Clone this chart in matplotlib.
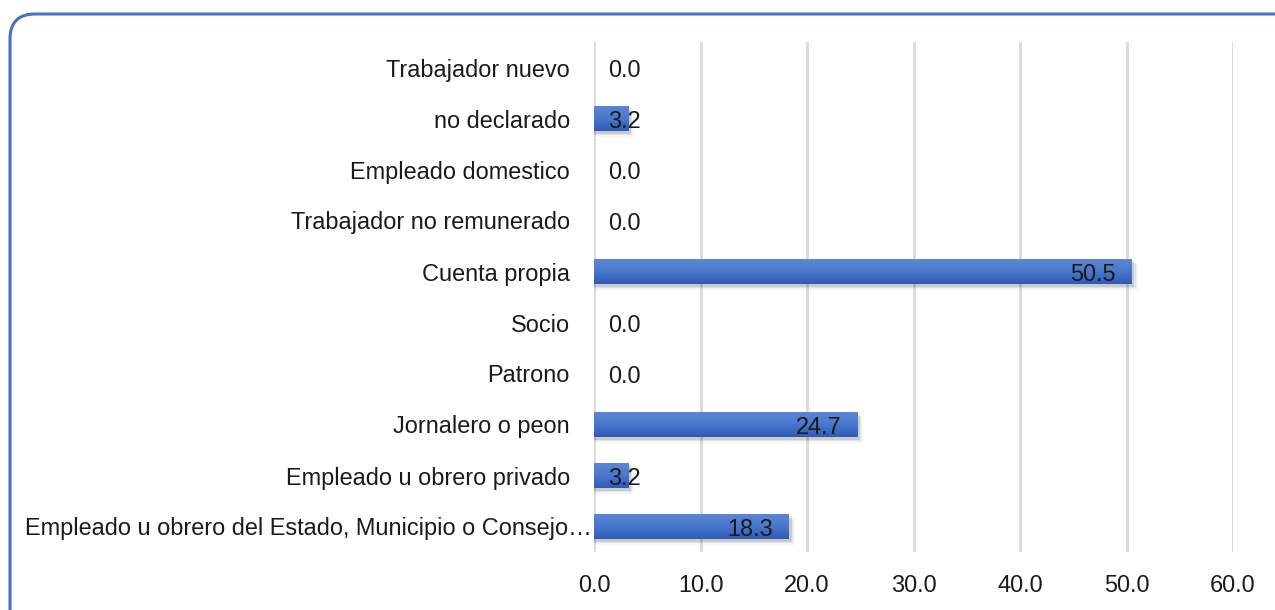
import matplotlib
matplotlib.use("Agg")
import matplotlib.pyplot as plt
import matplotlib.transforms as mtransforms
import numpy as np
from matplotlib.patches import FancyBboxPatch

plt.rcParams['font.family'] = ['Liberation Sans', 'DejaVu Sans']

categories = [
    "Empleado u obrero del Estado, Municipio o Consejo\u2026",
    "Empleado u obrero privado",
    "Jornalero o peon",
    "Patrono",
    "Socio",
    "Cuenta propia",
    "Trabajador no remunerado",
    "Empleado domestico",
    "no declarado",
    "Trabajador nuevo",
]
values = [18.3, 3.2, 24.7, 0.0, 0.0, 50.5, 0.0, 0.0, 3.2, 0.0]
xticks = [0, 10, 20, 30, 40, 50, 60]

FS = 16.9
TXT = "#1a1a1a"

fig = plt.figure(figsize=(12.75, 6.1), dpi=100)

# rounded frame around the chart area
frame = FancyBboxPatch((10 / 1275, -40 / 610), 1300 / 1275, 636 / 610,
                       boxstyle="round,pad=0,rounding_size=0.0196",
                       transform=fig.transFigure, fill=False,
                       edgecolor="#4472C4", linewidth=2.2,
                       mutation_aspect=1275 / 610)
fig.patches.append(frame)

ax = fig.add_axes([594 / 1275, 1 - 552 / 610, (1233 - 594) / 1275, (552 - 42) / 610])
y = np.arange(len(categories))

ax.set_xticks(xticks)
ax.set_xticklabels([f"{t:.1f}" for t in xticks], fontsize=FS, color=TXT)
ax.set_yticks(y)
ax.set_yticklabels(categories, fontsize=FS, color=TXT)
ax.tick_params(axis='both', length=0)
ax.tick_params(axis='y', pad=17.3)
ax.tick_params(axis='x', pad=15.5)
for s in ax.spines.values():
    s.set_visible(False)
ax.grid(axis='x', color="#D9D9D9", linewidth=2)
ax.set_axisbelow(True)

# the truncated long label sits closer to the axis
long_lbl = ax.get_yticklabels()[0]
long_lbl.set_transform(long_lbl.get_transform() +
                       mtransforms.ScaledTranslation(22 / 100, 0, fig.dpi_scale_trans))

bar_h = 0.5
# soft drop shadow
for yi, v in zip(y, values):
    if v > 0:
        for k, a in enumerate([0.10, 0.07, 0.04]):
            off = 0.05 + 0.03 * k
            ax.barh(yi - off, v + 0.25 + 0.15 * k, height=bar_h, left=0,
                    color="black", alpha=a, linewidth=0, zorder=2)

bars = ax.barh(y, values, height=bar_h, color="#4472C4", linewidth=0, zorder=3)

# vertical gradient inside each bar
grad = np.linspace(0, 1, 64).reshape(-1, 1)
cmap = matplotlib.colors.LinearSegmentedColormap.from_list(
    "barfill", ["#2F5BB7", "#4A78CC", "#5E88D6"])
for b, v in zip(bars, values):
    if v <= 0:
        continue
    x0, y0 = b.get_x(), b.get_y()
    im = ax.imshow(grad, cmap=cmap, aspect='auto', origin='lower',
                   extent=[x0, x0 + v, y0, y0 + b.get_height()], zorder=4)
    im.set_clip_path(b)

ax.set_xlim(0, 60)
ax.set_ylim(-0.5, len(categories) - 0.5)

# value labels
for yi, v in zip(y, values):
    if v < 6:
        ax.annotate(f"{v:.1f}", xy=(0, yi), xytext=(14, -3), textcoords="offset pixels",
                    ha='left', va='center', fontsize=FS, color=TXT, zorder=5)
    else:
        ax.annotate(f"{v:.1f}", xy=(v, yi), xytext=(-16, -3), textcoords="offset pixels",
                    ha='right', va='center', fontsize=FS, color=TXT, zorder=5)

fig.savefig("out.png", dpi=100)
